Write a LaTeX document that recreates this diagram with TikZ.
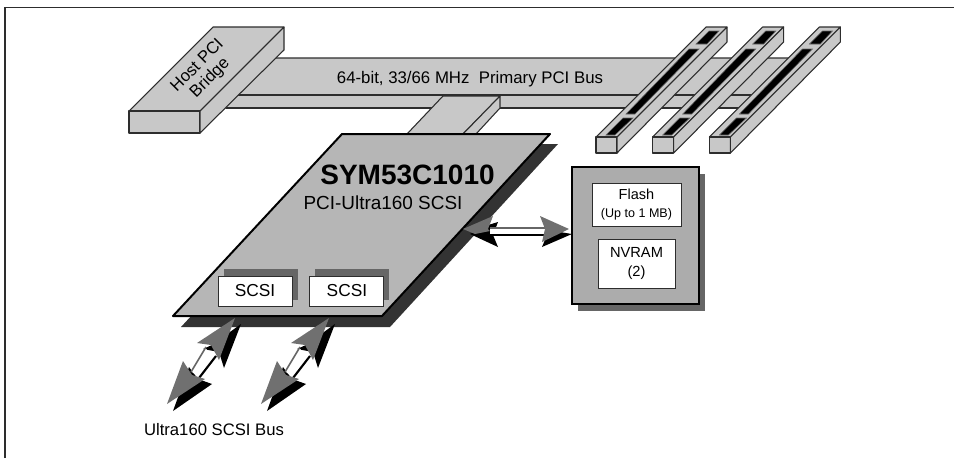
\documentclass[tikz,border=0pt]{standalone}
\usepackage{fontspec}
\setmainfont{Liberation Sans}
\usetikzlibrary{positioning}
\definecolor{busColor}{RGB}{200, 200, 200}
\definecolor{chipColor}{RGB}{182, 182, 182}
\definecolor{panelColor}{RGB}{172, 172, 172}
\definecolor{edgeColor}{RGB}{45, 45, 45}
\definecolor{darkShadow}{RGB}{51, 51, 51}
\definecolor{midShadow}{RGB}{102, 102, 102}
\definecolor{headColor}{RGB}{112, 112, 112}
\tikzset{
    solid3d/.style={draw=edgeColor, fill=busColor, line width=0.8pt, line join=round},
    whitebox/.style={draw=edgeColor, fill=white, line width=0.7pt, align=center, inner sep=0pt},
    slothole/.style={fill=black, draw=midShadow, line width=0.4pt},
    arrowhead/.style={fill=headColor},
    arrowshadow/.style={fill=black},
    plainlabel/.style={inner sep=0pt, align=center}
}
\begin{document}
\begin{tikzpicture}[x=0.75pt, y=-0.75pt]
    \useasboundingbox (0,0) rectangle (954,458);

    % Frame, top and left only
    \draw[edgeColor, line width=1.1pt] (5,458) -- (5,7.5) -- (954,7.5);

    % Primary bus
    \draw[solid3d] (263,58) -- (808,58) -- (771,95) -- (226,95) -- cycle;
    \draw[solid3d] (226,95) rectangle (771,108);
    \node[plainlabel, font=\fontsize{12.6pt}{15pt}\selectfont] (buslabel) at (470,79) {64-bit, 33/66 MHz\ \ Primary PCI Bus};

    % Host bridge
    \draw[solid3d] (213,27) -- (284,27) -- (200,111) -- (129,111) -- cycle;
    \draw[solid3d] (129,111) rectangle (200,133);
    \draw[solid3d] (284,27) -- (284,50) -- (200,133) -- (200,111) -- cycle;
    \node[plainlabel, rotate=45, font=\fontsize{12.5pt}{13.5pt}\selectfont] (bridge) at (204,72) {Host PCI\\Bridge};

    % Stub from bus to chip
    \draw[solid3d] (443,96) -- (500,96) -- (463,134) -- (407,134) -- cycle;
    \draw[solid3d] (500,96) -- (500,108) -- (476,134) -- (463,134) -- cycle;

    % PCI slots
    \foreach \sx in {0, 56.7, 113.4} {
        \begin{scope}[xshift=\sx*0.75pt]
            \draw[solid3d] (596,137) -- (617,137) -- (727,27) -- (706,27) -- cycle;
            \draw[solid3d] (596,137) rectangle (617,153);
            \draw[solid3d] (617,137) -- (617,153) -- (727,42) -- (727,27) -- cycle;
            \fill[slothole] (606,135) -- (615,135) -- (633,118) -- (623,118) -- cycle;
            \fill[slothole] (626,114) -- (635,114) -- (699,49) -- (689,49) -- cycle;
            \fill[slothole] (696,44) -- (707,44) -- (719,31) -- (709,31) -- cycle;
        \end{scope}
    }

    % Chip
    \fill[darkShadow] (350,144) -- (558,144) -- (390,327) -- (181,327) -- cycle;
    \draw[fill=chipColor, line width=1.5pt, line join=round] (342,134) -- (550,134) -- (382,316) -- (173,316) -- cycle;
    \node[plainlabel, font=\fontsize{21pt}{24pt}\selectfont\bfseries] (chipname) at (407.5,175) {SYM53C1010};
    \node[plainlabel, font=\fontsize{14.2pt}{16pt}\selectfont] (chipkind) at (383,203) {PCI-Ultra160 SCSI};

    % SCSI blocks
    \fill[midShadow] (224,269) rectangle (298,300);
    \fill[midShadow] (315,269) rectangle (389,300);
    \node[whitebox, minimum width=55.5pt, minimum height=22.5pt, font=\fontsize{13pt}{15pt}\selectfont] (scsione) at (255,291) {SCSI};
    \node[whitebox, minimum width=55.5pt, minimum height=22.5pt, font=\fontsize{13pt}{15pt}\selectfont, right=12.75pt of scsione] (scsitwo) {SCSI};

    % Memory panel
    \fill[midShadow] (578,174) rectangle (705,311);
    \draw[fill=panelColor, line width=1.5pt] (572,167) rectangle (699,304);
    \node[whitebox, minimum width=66.75pt, minimum height=32.25pt] (flash) at (636.5,204.5) {\fontsize{10.9pt}{12.5pt}\selectfont Flash\\[1pt]\fontsize{9.4pt}{11pt}\selectfont (Up to 1 MB)};
    \node[whitebox, minimum width=57.75pt, minimum height=36.75pt, font=\fontsize{11pt}{14pt}\selectfont] (nvram) at (636.5,263.5) {NVRAM\\(2)};

    % Arrow chip to memory
    \fill[arrowshadow] (572,234) -- (542,247) -- (547,235) -- (542,229) -- cycle;
    \fill[arrowshadow] (470,234) -- (498,247) -- (493,235) -- (498,222) -- (485,226) -- cycle;
    \fill[white] (490,228) rectangle (545,235);
    \draw[midShadow, line width=1.2pt] (490,228) -- (545,228);
    \draw[black, line width=1.6pt] (490,234.7) -- (545,234.7);
    \fill[arrowhead] (569,229) -- (540,216) -- (545,229) -- (542,242) -- cycle;
    \fill[arrowhead] (463,229) -- (493,216) -- (488,229) -- (490,231) -- (475,234) -- cycle;

    % Arrows chip to SCSI bus
    \foreach \ax in {0, 94} {
        \begin{scope}[xshift=\ax*0.75pt]
            \fill[arrowshadow] (241,324) -- (224,368) -- (219,352) -- (203,349) -- (212,345) -- cycle;
            \fill[arrowshadow] (173,411) -- (212,384) -- (198,379) -- (189,367) -- cycle;
            \fill[white] (205,348) -- (215,357) -- (200,378) -- (192,372) -- cycle;
            \draw[midShadow, line width=1.2pt] (206,347) -- (191,372);
            \draw[black, line width=1.6pt] (216,356) -- (199,378);
            \fill[arrowhead] (235,318) -- (197,343) -- (211,345) -- (219,360) -- cycle;
            \fill[arrowhead] (167,404) -- (205,379) -- (192,375) -- (183,361) -- cycle;
        \end{scope}
    }
    \node[plainlabel, font=\fontsize{12.5pt}{15pt}\selectfont] (scsibus) at (214,429.5) {Ultra160 SCSI Bus};
\end{tikzpicture}
\end{document}
